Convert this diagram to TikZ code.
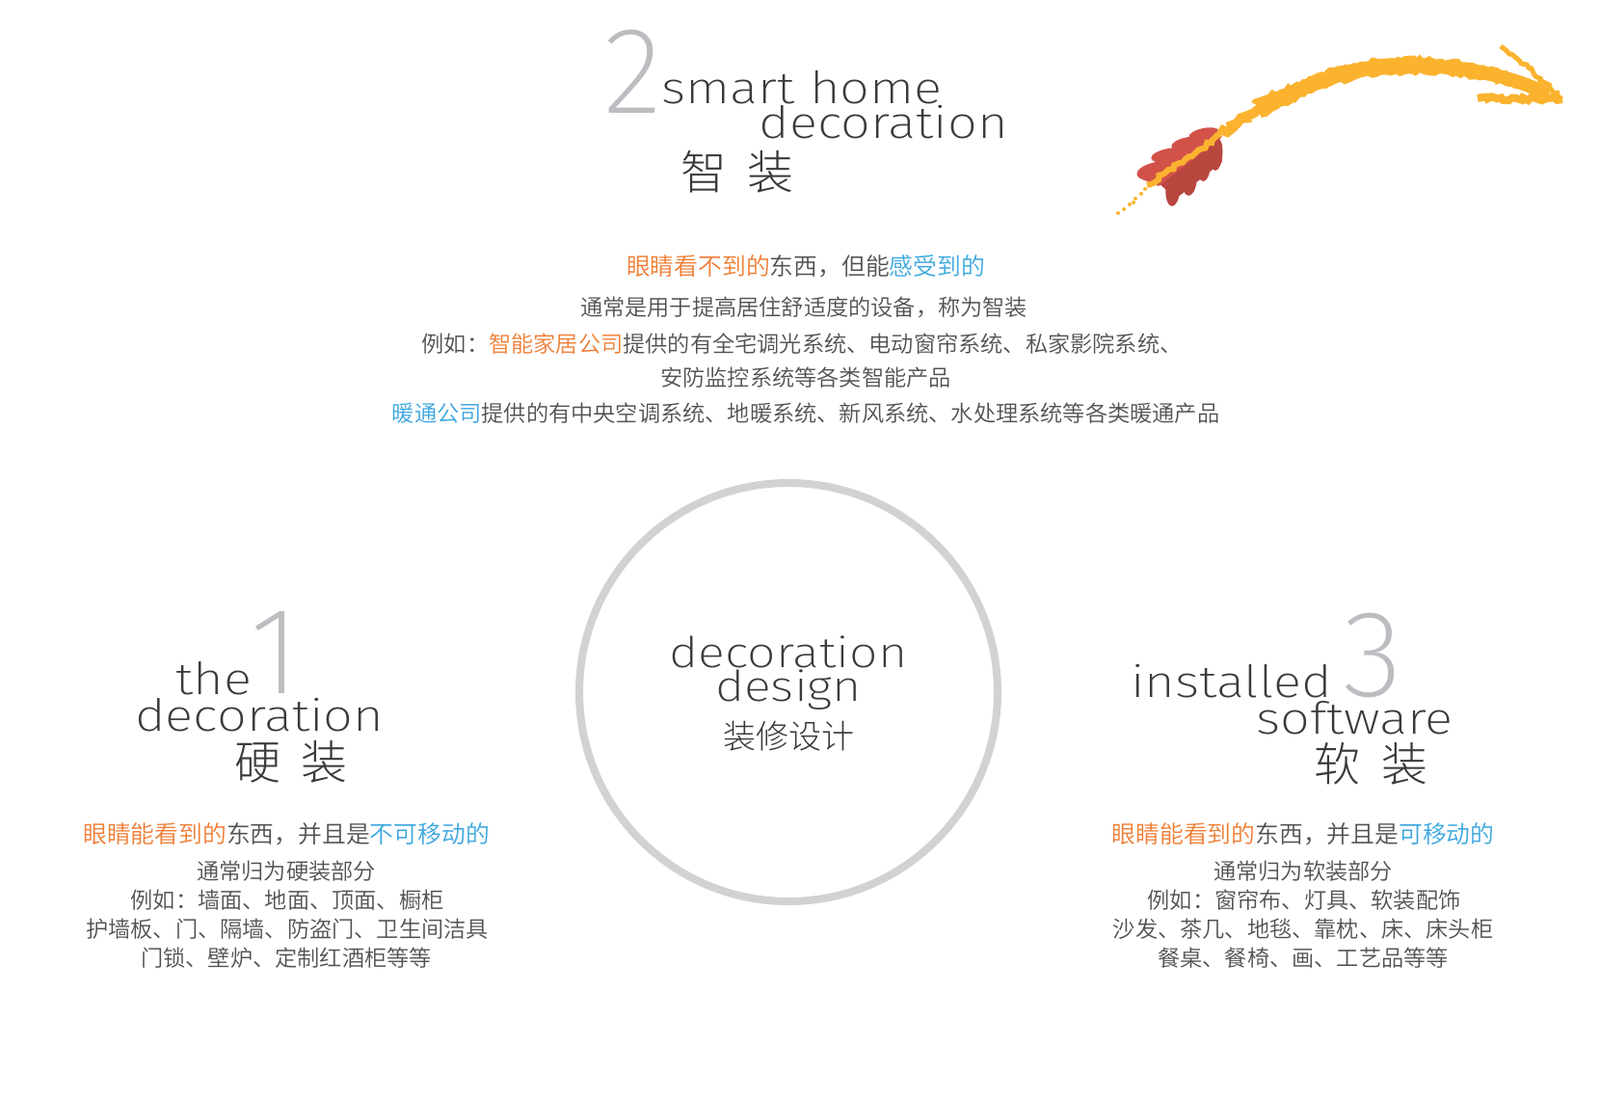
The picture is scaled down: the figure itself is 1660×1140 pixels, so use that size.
\documentclass[tikz,border=0pt]{standalone}
\usepackage{fontspec}
\usetikzlibrary{decorations.pathmorphing}
\newfontfamily\cjkfont{Noto Sans CJK SC DemiLight}
\newfontfamily\cjkthin{Noto Sans CJK SC Light}
\newfontfamily\titlefont{Fira Sans ExtraLight}[FakeStretch=1.18]
\newfontfamily\digitfont{Fira Sans ExtraLight}
\definecolor{txtgray}{HTML}{505153}
\definecolor{titlegray}{HTML}{3A3A3C}
\definecolor{numgray}{HTML}{BCBDC0}
\definecolor{ringgray}{HTML}{D1D2D4}
\definecolor{hlorange}{HTML}{EF7E35}
\definecolor{hlblue}{HTML}{3BA7DF}
\definecolor{brushyellow}{HTML}{FBB32F}
\definecolor{leaflight}{HTML}{D2524A}
\definecolor{leafdark}{HTML}{B8473F}

\tikzset{
  title/.style={inner sep=0pt, text=titlegray, font=\titlefont\fontsize{23pt}{23pt}\selectfont},
  ringtitle/.style={inner sep=0pt, text=titlegray, font=\titlefont\fontsize{22pt}{22pt}\selectfont},
  digit/.style={inner sep=0pt, text=numgray, font=\digitfont\fontsize{64pt}{64pt}\selectfont},
  cntitle/.style={inner sep=0pt, text=titlegray, font=\cjkthin\fontsize{24pt}{24pt}\selectfont},
  lead/.style={inner sep=0pt, text=txtgray, font=\cjkfont\fontsize{12.4pt}{14pt}\selectfont},
  body/.style={inner sep=0pt, text=txtgray, font=\cjkfont\fontsize{11.6pt}{14pt}\selectfont},
  ring/.style={circle, draw=ringgray, line width=4pt, minimum size=217pt, inner sep=0pt},
  brush/.style={draw=brushyellow},
  rough/.style={decorate, decoration={random steps, segment length=2pt, amplitude=1pt}},
}

\begin{document}
\begin{tikzpicture}[x=0.5pt, y=-0.5pt]
  \useasboundingbox (0,0) rectangle (1660,1140);
  \fill[white] (0,0) rectangle (1660,1140);

  % smart home
  \node (num2) [digit, anchor=base west] at (626,117) {2};
  \node (smart) [title, anchor=base west] at (686,107) {smart home};
  \node (smartdeco) [title, anchor=base east] at (1046,143) {decoration};
  \node (smartcn) [cntitle, anchor=base] at (765,196) {智\hspace{11pt}装};

  \node (t1) [lead, anchor=base] at (836,285) {{\color{hlorange}眼睛看不到的}东西，但能{\color{hlblue}感受到的}};
  \node (t2) [body, anchor=base] at (834,327) {通常是用于提高居住舒适度的设备，称为智装};
  \node (t3) [body, anchor=base] at (832,365) {例如：{\color{hlorange}智能家居公司}提供的有全宅调光系统、电动窗帘系统、私家影院系统、};
  \node (t4) [body, anchor=base] at (836,400) {安防监控系统等各类智能产品};
  \node (t5) [body, anchor=base] at (836,437) {{\color{hlblue}暖通公司}提供的有中央空调系统、地暖系统、新风系统、水处理系统等各类暖通产品};

  % leaf and arrow
  \fill[leafdark] (1200,188) -- (1260,140) -- (1268,168) -- (1220,206) -- cycle;
  \fill[leafdark, rotate around={-4:(1217,195)}] (1217,195) ellipse [x radius=3.8pt, y radius=9.5pt];
  \fill[leafdark, rotate around={-4:(1234,187)}] (1234,187) ellipse [x radius=3.8pt, y radius=8pt];
  \fill[leafdark, rotate around={-4:(1249,175)}] (1249,175) ellipse [x radius=3.2pt, y radius=6.5pt];
  \fill[leafdark, rotate around={-4:(1262,160)}] (1262,160) ellipse [x radius=3.2pt, y radius=8.5pt];
  \fill[leaflight] (1185,186) -- (1256,134) -- (1268,142) -- (1202,193) -- cycle;
  \fill[leaflight, rotate around={12:(1200,177)}] (1200,177) ellipse [x radius=10.5pt, y radius=4.5pt];
  \fill[leaflight, rotate around={10:(1213,161)}] (1213,161) ellipse [x radius=9.5pt, y radius=3.5pt];
  \fill[leaflight, rotate around={12:(1231,149)}] (1231,149) ellipse [x radius=8pt, y radius=3.2pt];
  \fill[leaflight, rotate around={12:(1249,139)}] (1249,139) ellipse [x radius=8pt, y radius=3pt];

  \coordinate (brushA) at (1168,216);
  \coordinate (brushB) at (1267,139);
  \coordinate (brushC) at (1450,68);
  \coordinate (brushD) at (1606,98);
  \coordinate (tip) at (1621,103);
  \draw[brush, line width=3pt, rough] (1190,192) .. controls (1215,176) and (1245,156) .. (brushB);
  \foreach \p in {(1166,217),(1172,212),(1178,206),(1184,201),(1160,221),(1176,210),(1188,196)}
    \fill[brushyellow] \p circle (1pt);
  \draw[brush, line width=5pt, rough] (brushB) .. controls (1285,126) and (1300,116) .. (1320,106);
  \draw[brush, line width=7pt] (1305,113) .. controls (1350,90) and (1400,69) .. (brushC) .. controls (1525,66) and (1580,84) .. (brushD);
  \draw[brush, line width=2pt, rough] (1300,107) .. controls (1350,83) and (1400,62) .. (1450,61) .. controls (1525,60) and (1580,78) .. (brushD);
  \draw[brush, line width=2pt, rough] (1308,120) .. controls (1350,97) and (1400,76) .. (1450,75) .. controls (1525,72) and (1580,90) .. (brushD);
  \draw[brush, line width=4pt, rough] (1533,102) -- (tip);
  \draw[brush, line width=2.5pt, rough] (1557,48) .. controls (1580,64) and (1600,84) .. (tip);

  % hard decoration
  \node (num1) [digit, anchor=base east] at (312,719) {1};
  \node (hardthe) [title, anchor=base west] at (182,720) {the};
  \node (harddeco) [title, anchor=base west] at (140,758) {decoration};
  \node (hardcn) [cntitle, anchor=base] at (302,808) {硬\hspace{11pt}装};

  \node (h1) [lead, anchor=base] at (297,874) {{\color{hlorange}眼睛能看到的}东西，并且是{\color{hlblue}不可移动的}};
  \node (h2) [body, anchor=base] at (297,912) {通常归为硬装部分};
  \node (h3) [body, anchor=base] at (298,942) {例如：墙面、地面、顶面、橱柜};
  \node (h4) [body, anchor=base] at (298,972) {护墙板、门、隔墙、防盗门、卫生间洁具};
  \node (h5) [body, anchor=base] at (297,1002) {门锁、壁炉、定制红酒柜等等};

  % center
  \node (ring) [ring] at (818,718) {};
  \node (ringdeco) [ringtitle, anchor=base] at (818,692) {decoration};
  \node (ringdesign) [ringtitle, anchor=base] at (818,727) {design};
  \node (ringcn) [cntitle, font=\cjkthin\fontsize{17pt}{17pt}\selectfont, anchor=base] at (818,776) {装修设计};

  % soft decoration
  \node (num3) [digit, anchor=base west] at (1393,722) {3};
  \node (softinst) [title, anchor=base west] at (1173,723) {installed};
  \node (softsw) [title, anchor=base east] at (1508,761) {software};
  \node (softcn) [cntitle, anchor=base] at (1422,810) {软\hspace{11pt}装};

  \node (s1) [lead, anchor=base] at (1352,874) {{\color{hlorange}眼睛能看到的}东西，并且是{\color{hlblue}可移动的}};
  \node (s2) [body, anchor=base] at (1352,912) {通常归为软装部分};
  \node (s3) [body, anchor=base] at (1353,942) {例如：窗帘布、灯具、软装配饰};
  \node (s4) [body, anchor=base] at (1352,972) {沙发、茶几、地毯、靠枕、床、床头柜};
  \node (s5) [body, anchor=base] at (1352,1002) {餐桌、餐椅、画、工艺品等等};
\end{tikzpicture}
\end{document}
